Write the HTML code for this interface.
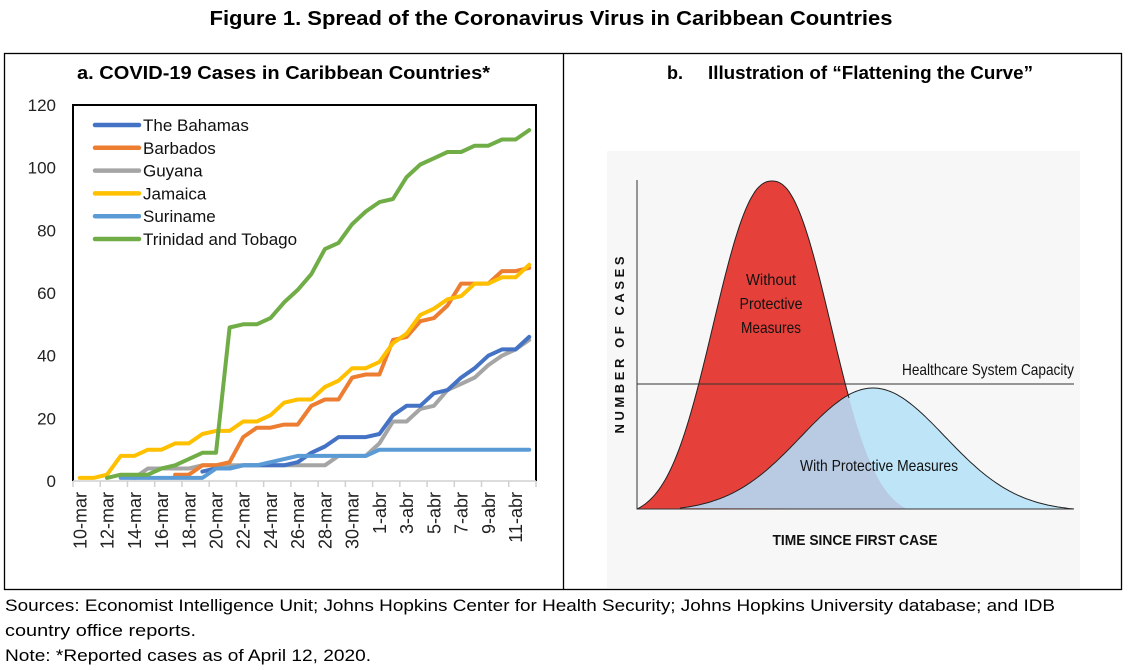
<!DOCTYPE html>
<html><head><meta charset="utf-8"><style>
html,body{margin:0;padding:0;background:#fff;}
svg{display:block;font-family:"Liberation Sans",sans-serif;}
</style></head><body>
<svg id="fig" width="1128" height="670" viewBox="0 0 1128 670">
<text x="551" y="25" font-size="20" font-weight="bold" text-anchor="middle" textLength="683" lengthAdjust="spacingAndGlyphs">Figure 1. Spread of the Coronavirus Virus in Caribbean Countries</text>
<rect x="4.5" y="53.5" width="1117" height="536" fill="none" stroke="#000" stroke-width="1.3"/>
<line x1="563.5" y1="53" x2="563.5" y2="590" stroke="#000" stroke-width="1.3"/>
<text x="77" y="79" font-size="18" font-weight="bold" textLength="413" lengthAdjust="spacingAndGlyphs">a. COVID-19 Cases in Caribbean Countries*</text>
<text x="667" y="79" font-size="18" font-weight="bold">b.</text>
<text x="708" y="79" font-size="18" font-weight="bold" textLength="325" lengthAdjust="spacingAndGlyphs">Illustration of “Flattening the Curve”</text>
<g id="chartA"></g>
<g id="illus"></g>
<text x="5" y="611" font-size="17" textLength="1050" lengthAdjust="spacingAndGlyphs">Sources: Economist Intelligence Unit; Johns Hopkins Center for Health Security; Johns Hopkins University database; and IDB</text>
<text x="5" y="636" font-size="17" textLength="191" lengthAdjust="spacingAndGlyphs">country office reports.</text>
<text x="5" y="661" font-size="17" textLength="366" lengthAdjust="spacingAndGlyphs">Note: *Reported cases as of April 12, 2020.</text>
</svg>
<script>
const categories = ["10-mar","11-mar","12-mar","13-mar","14-mar","15-mar","16-mar","17-mar","18-mar","19-mar","20-mar","21-mar","22-mar","23-mar","24-mar","25-mar","26-mar","27-mar","28-mar","29-mar","30-mar","31-mar","1-abr","2-abr","3-abr","4-abr","5-abr","6-abr","7-abr","8-abr","9-abr","10-abr","11-abr","12-abr"];
const yTicks = [0,20,40,60,80,100,120];
const bahamas = [null,null,null,null,null,null,null,null,null,3,4,4,5,5,5,5,6,9,11,14,14,14,15,21,24,24,28,29,33,36,40,42,42,46];
const barbados = [null,null,null,null,null,null,null,2,2,5,5,6,14,17,17,18,18,24,26,26,33,34,34,45,46,51,52,56,63,63,63,67,67,68];
const guyana = [null,null,null,null,1,4,4,4,4,5,5,5,5,5,5,5,5,5,5,8,8,8,12,19,19,23,24,29,31,33,37,40,42,45];
const jamaica = [1,1,2,8,8,10,10,12,12,15,16,16,19,19,21,25,26,26,30,32,36,36,38,44,47,53,55,58,59,63,63,65,65,69];
const suriname = [null,null,null,1,1,1,1,1,1,1,4,4,5,5,6,7,8,8,8,8,8,8,10,10,10,10,10,10,10,10,10,10,10,10];
const trinidad = [null,null,1,2,2,2,4,5,7,9,9,49,50,50,52,57,61,66,74,76,82,86,89,90,97,101,103,105,105,107,107,109,109,112];
const seriesNames = ["The Bahamas","Barbados","Guyana","Jamaica","Suriname","Trinidad and Tobago"];
const NS="http://www.w3.org/2000/svg";
function mk(tag, attrs, parent){const e=document.createElementNS(NS,tag);for(const k in attrs)e.setAttribute(k,attrs[k]);parent.appendChild(e);return e;}
const g=document.getElementById('chartA');
const L=73,R=536,T=105,B=481,yMax=120;
const band=(R-L)/categories.length;
const xPos=i=>L+band*(i+0.5);
const yPos=v=>B-(v/yMax)*(B-T);
let e=mk('path',{d:`M${L},${B} V${T} H${R} V${B}`,fill:'none',stroke:'#000','stroke-width':2},g);


e=mk('line',{x1:L,y1:B,x2:R,y2:B,stroke:'#d0d0d0','stroke-width':1.5},g);


for(let i=0;i<=categories.length;i++){
  if(i%2!==0 && i!==categories.length) continue;
  e=mk('line',{x1:L+band*i,y1:B,x2:L+band*i,y2:B+6,stroke:'#d0d0d0','stroke-width':1.5},g);
  
  
}
categories.forEach((c,i)=>{
  if(i%2!==0) return;
  const x=xPos(i);
  const t=mk('text',{x:0,y:0,'font-size':18,fill:'#222','text-anchor':'end',transform:`translate(${x+6.5},${B+11}) rotate(-90)`},g);
  t.textContent=c;
  
  
});
yTicks.forEach(v=>{
  const t=mk('text',{x:56,y:yPos(v)+6,'font-size':17,fill:'#222','text-anchor':'end'},g);
  t.textContent=v;
  
  
});
const seriesData=[bahamas,barbados,guyana,jamaica,suriname,trinidad];
const colors=["#4472c4","#ed7d31","#a5a5a5","#ffc000","#5b9bd5","#70ad47"];
const drawOrder=[2,0,1,4,3,5];
drawOrder.forEach(s=>{
  const arr=seriesData[s];let d='';let pen=false;
  arr.forEach((v,i)=>{if(v===null){pen=false;return;}d+=(pen?'L':'M')+xPos(i).toFixed(1)+','+yPos(v).toFixed(1)+' ';pen=true;});
  const p=mk('path',{d:d,fill:'none',stroke:colors[s],'stroke-width':4,'stroke-linejoin':'round','stroke-linecap':'round'},g);
  
  
});
seriesNames.forEach((n,i)=>{
  const y=125+i*22.8;
  const ln=mk('line',{x1:95,y1:y,x2:139,y2:y,stroke:colors[i],'stroke-width':4.5,'stroke-linecap':'round'},g);
  
  
  const t=mk('text',{x:143,y:y+6,'font-size':17,fill:'#111'},g);
  t.textContent=n;
  
  
});
const ig=document.getElementById('illus');
e=mk('rect',{x:607,y:151,width:473,height:437,fill:'#f7f7f7'},ig);


const base=509;
function curve(x0,x1,c,H,s,p){const e0=Math.exp(-Math.pow(Math.max(c-x0,x1-c)/s,p)/2);const pts=[];for(let x=x0;x<=x1;x+=2){const gx=Math.exp(-Math.pow(Math.abs(x-c)/s,p)/2);pts.push([x,base-H*Math.max(0,(gx-e0)/(1-e0))]);}return pts;}
const red=curve(637,907,772,328,56,2.3);
const blue=curve(680,1074,873,121,72,2);
const toD=p=>'M'+p.map(q=>q[0]+','+q[1].toFixed(1)).join(' L')+' Z';
mk('defs',{},ig).innerHTML=`<clipPath id="redclip"><path d="${toD(red)}"/></clipPath>`;
e=mk('path',{d:toD(red),fill:'#e5403a'},ig);


e=mk('path',{d:toD(blue),fill:'#bde4f7'},ig);


e=mk('path',{d:toD(blue),fill:'#b8cbe3','clip-path':'url(#redclip)'},ig);


e=mk('path',{d:'M'+red.filter(q=>q[0]<=850).map(q=>q[0]+','+q[1].toFixed(1)).join(' L'),fill:'none',stroke:'#222','stroke-width':1},ig);


e=mk('path',{d:'M'+blue.map(q=>q[0]+','+q[1].toFixed(1)).join(' L'),fill:'none',stroke:'#222','stroke-width':1},ig);


e=mk('path',{d:'M637,180 V509 H1074',fill:'none',stroke:'#333','stroke-width':1},ig);


e=mk('line',{x1:637,y1:384,x2:1074,y2:384,stroke:'#333','stroke-width':1},ig);


const labels=[
 ["Without",771,285,50,'label-without-1'],["Protective",771,309,63,'label-without-2'],["Measures",771,333,60,'label-without-3'],
 ["Healthcare System Capacity",988,375,172,'capacity-label'],["With Protective Measures",879,471,158,'with-measures-label']];
labels.forEach(l=>{
  const t=mk('text',{x:l[1],y:l[2],'font-size':16,fill:'#111','text-anchor':'middle',textLength:l[3],lengthAdjust:'spacingAndGlyphs'},ig);
  t.textContent=l[0];
  
  
});
let t=mk('text',{x:0,y:0,'font-size':13,'font-weight':'bold',fill:'#111','text-anchor':'middle',textLength:177,lengthAdjust:'spacing',transform:'translate(624,345) rotate(-90)'},ig);
t.textContent="NUMBER OF CASES";


t=mk('text',{x:855,y:545,'font-size':15,'font-weight':'bold',fill:'#111','text-anchor':'middle',textLength:165,lengthAdjust:'spacingAndGlyphs'},ig);
t.textContent="TIME SINCE FIRST CASE";


</script>
</body></html>
